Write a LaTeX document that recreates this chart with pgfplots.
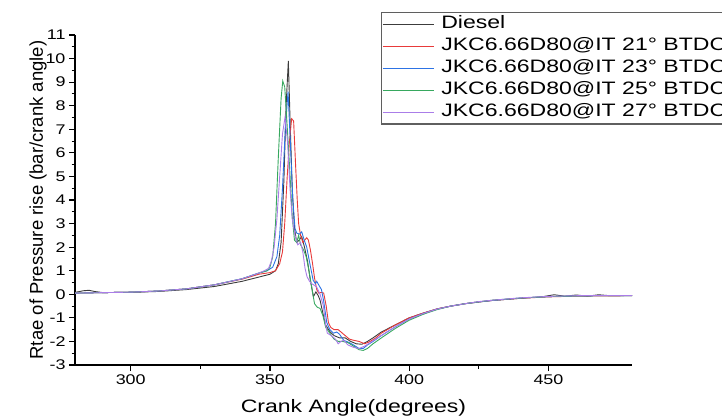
\documentclass[border=0pt]{standalone}
\usepackage{fontspec}
\setmainfont{Liberation Sans}[FakeStretch=1.28]
\newfontfamily\ylabfont{Liberation Sans}
\usepackage{pgfplots}
\pgfplotsset{compat=1.18}
\definecolor{cdiesel}{RGB}{60,60,60}
\definecolor{cred}{RGB}{232,58,58}
\definecolor{cblue}{RGB}{45,115,228}
\definecolor{cgreen}{RGB}{55,168,95}
\definecolor{cpurple}{RGB}{170,125,232}
\definecolor{cframe}{RGB}{95,95,95}
\begin{document}
\begin{tikzpicture}[x=1pt,y=1pt]
\useasboundingbox (0,0) rectangle (722,418);
\clip (0,0) rectangle (722,418);
\begin{axis}[
  at={(75pt,53pt)}, anchor=south west,
  scale only axis, width=557pt, height=330pt,
  xmin=280, xmax=480, ymin=-3, ymax=11,
  axis lines=left, axis line style={-, line width=1.3pt, black},
  xtick={300,350,400,450}, ytick={-3,-2,...,11},
  minor x tick num=1, minor y tick num=1,
  tick align=outside, major tick length=6pt, minor tick length=3.5pt,
  tick style={black, line width=1.1pt},
  /pgf/number format/assume math mode=true,
  tick label style={font=\fontsize{14}{16}\selectfont},
  xlabel={Crank Angle(degrees)},
  ylabel={Rtae of Pressure rise (bar/crank angle)},
  xlabel style={font=\fontsize{18}{20}\selectfont, at={(axis description cs:0.5,-0.145)}, anchor=base},
  ylabel style={font=\ylabfont\fontsize{18.5}{20}\selectfont, at={(axis description cs:-0.0575,0.5)}, anchor=base},
  legend style={at={(axis description cs:0.549,1.07)}, anchor=north west,
    draw=cframe, line width=1.3pt, fill=white,
    font=\fontsize{18}{21}\selectfont,
    inner xsep=1pt, inner ysep=1pt, row sep=0pt,
    nodes={text height=13pt, text depth=4.5pt, inner ysep=2.2pt, inner xsep=3pt},
    /tikz/every odd column/.append style={column sep=4pt}},
  legend cell align=left,
  legend image code/.code={\draw[#1] (0pt,0pt) -- (51pt,0pt);},
  every axis plot/.append style={line width=0.9pt},
]
\addplot[cdiesel] coordinates {
(280,0.08) (283,0.15) (285,0.17) (287,0.12) (290,0.07) (295,0.08) (300,0.08)
(310,0.12) (320,0.2) (330,0.33) (340,0.55) (346,0.73) (350,0.85) (352,1.0)
(353,1.3) (354,2.2) (355,4.8) (355.8,8.0) (356.6,9.9) (357.2,7.5) (358,4.5)
(358.8,2.8) (359.6,2.2) (360.5,2.3) (361.4,2.45) (362.4,2.0) (363.5,1.4)
(364.5,0.6) (365.6,-0.1) (366.5,0.1) (367.3,-0.05) (368,-0.25) (369,-0.8)
(370,-1.3) (371.6,-1.6) (373,-1.75) (375,-1.85) (377,-1.85) (379,-2.0)
(381,-2.1) (383,-2.12) (385,-2.0) (387,-1.85) (390,-1.6) (395,-1.3) (400,-1.0)
(405,-0.8) (410,-0.62) (415,-0.5) (420,-0.4) (430,-0.26) (440,-0.17)
(448,-0.1) (452,-0.02) (456,-0.08) (460,-0.03) (464,-0.08) (468,-0.02)
(472,-0.06) (480,-0.05)};
\addlegendentry{Diesel}
\addplot[cred] coordinates {
(280,0.05) (290,0.07) (300,0.09) (310,0.14) (320,0.23) (330,0.40) (340,0.64)
(346,0.85) (350,0.92) (352,1.0) (353.5,1.3) (354.5,1.8) (355.3,3.0) (356.2,5.0)
(357,6.5) (357.8,7.45) (358.5,7.35) (359.2,5.5) (359.8,4.0) (360.3,3.0)
(361,2.5) (361.8,2.2) (362.5,2.3) (363.2,2.4) (363.8,2.3) (364.5,1.9)
(365.3,1.3) (366,0.7) (366.8,0.2) (367.5,0.05) (368.5,0.08) (369.3,0.05)
(370.2,-0.5) (371,-1.2) (371.8,-1.4) (373,-1.5) (374.5,-1.5) (375.5,-1.6)
(377,-1.75) (378.5,-1.9) (380,-1.95) (382,-2.0) (384,-2.1) (386,-2.0)
(388,-1.85) (390,-1.65) (395,-1.3) (400,-1.0) (405,-0.8) (410,-0.62)
(415,-0.5) (420,-0.4) (425,-0.32) (430,-0.26) (440,-0.17) (450,-0.11)
(460,-0.08) (470,-0.07) (480,-0.06)};
\addlegendentry{JKC6.66D80@IT 21° BTDC}
\addplot[cblue] coordinates {
(280,0.05) (290,0.07) (300,0.09) (310,0.14) (320,0.23) (330,0.40) (340,0.66)
(346,0.90) (349,1.0) (351,1.15) (352.5,1.6) (353.5,2.5) (354.5,4.5) (355.5,7.0)
(356.5,8.6) (357.3,6.5) (358.2,4.0) (359,2.8) (359.6,2.6) (360.5,2.55)
(361.4,2.65) (362.3,2.3) (363.2,2.0) (364.5,1.2) (365.5,0.6) (366.3,0.45)
(366.8,0.55) (367.5,0.4) (368.5,0.2) (369.3,-0.3) (370.4,-1.2) (371.5,-1.5)
(372.8,-1.65) (374,-1.6) (375,-1.7) (376.5,-1.95) (378.5,-2.05) (380,-2.15)
(382,-2.3) (383.5,-2.3) (385,-2.15) (387,-2.0) (390,-1.75) (395,-1.38)
(400,-1.05) (405,-0.82) (410,-0.63) (415,-0.5) (420,-0.4) (425,-0.32)
(430,-0.26) (440,-0.16) (450,-0.1) (460,-0.07) (470,-0.06) (480,-0.06)};
\addlegendentry{JKC6.66D80@IT 23° BTDC}
\addplot[cgreen] coordinates {
(280,0.05) (290,0.07) (300,0.09) (310,0.14) (320,0.23) (330,0.40) (340,0.66)
(346,0.90) (349,1.0) (350,1.15) (351,1.6) (352,3.0) (353,5.8) (354,8.3)
(354.6,9.05) (355.3,8.8) (356,7.5) (357,5.5) (358,3.3) (358.8,2.3) (359.6,2.2)
(360.3,2.5) (361,2.1) (362,1.9) (363,1.6) (364,1.0) (365,0.3) (366,-0.4)
(367,-0.55) (368,-0.6) (369,-0.9) (370,-1.4) (371.5,-1.65) (373,-1.9)
(374.5,-2.0) (376,-2.0) (378,-2.05) (380,-2.2) (382,-2.35) (383.5,-2.38)
(385,-2.3) (387,-2.1) (390,-1.85) (395,-1.45) (400,-1.1) (405,-0.85)
(410,-0.65) (415,-0.5) (420,-0.4) (425,-0.32) (430,-0.25) (440,-0.16)
(450,-0.1) (460,-0.07) (470,-0.06) (480,-0.06)};
\addlegendentry{JKC6.66D80@IT 25° BTDC}
\addplot[cpurple] coordinates {
(280,0.05) (290,0.07) (300,0.09) (310,0.14) (320,0.23) (330,0.40) (340,0.66)
(346,0.90) (348,1.0) (349.5,1.1) (350.5,1.4) (351.5,2.0) (352.5,3.2) (353.5,5.0)
(354.5,6.8) (355.4,7.5) (356.3,6.5) (357.2,4.5) (358,3.2) (359,2.5) (360,2.1)
(361,2.2) (361.8,1.8) (362.6,1.1) (363.3,0.75) (364.2,0.55) (365,0.45)
(366,0.38) (366.8,0.3) (368,0.0) (369.2,-0.5) (370,-1.3) (370.6,-1.65)
(372,-1.75) (373.5,-1.9) (374.5,-2.1) (375.5,-2.0) (376.5,-1.95) (378,-2.15)
(380,-2.25) (382,-2.3) (384,-2.2) (386,-2.05) (388,-1.9) (390,-1.75)
(395,-1.38) (400,-1.05) (405,-0.82) (410,-0.63) (415,-0.5) (420,-0.4)
(425,-0.31) (430,-0.25) (440,-0.15) (450,-0.09) (460,-0.06) (470,-0.05)
(480,-0.05)};
\addlegendentry{JKC6.66D80@IT 27° BTDC}
\end{axis}
\end{tikzpicture}
\end{document}
